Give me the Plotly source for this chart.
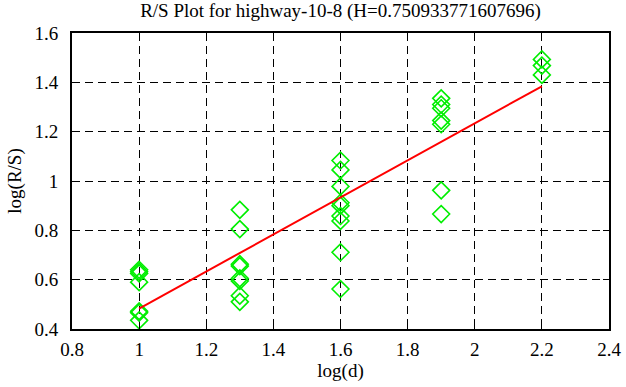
import plotly.graph_objects as go

# Data
x_groups = [1.0, 1.3, 1.6, 1.9, 2.2]
y_at_1_0 = [0.640, 0.632, 0.625, 0.590, 0.472, 0.466, 0.435]
y_at_1_3 = [0.883, 0.805, 0.663, 0.655, 0.605, 0.595, 0.535, 0.510]
y_at_1_6 = [1.083, 1.045, 0.978, 0.912, 0.900, 0.858, 0.838, 0.711, 0.562]
y_at_1_9 = [1.335, 1.310, 1.295, 1.245, 1.230, 0.962, 0.866]
y_at_2_2 = [1.493, 1.468, 1.430]

H = 0.750933771607696
intercept = -0.268
fit_x = [1.0, 2.2]

title_text = "R/S Plot for highway-10-8 (H=0.750933771607696)"
x_label = "log(d)"
y_label = "log(R/S)"
x_ticks = [0.8, 1, 1.2, 1.4, 1.6, 1.8, 2, 2.2, 2.4]
y_ticks = [0.4, 0.6, 0.8, 1, 1.2, 1.4, 1.6]

groups = [y_at_1_0, y_at_1_3, y_at_1_6, y_at_1_9, y_at_2_2]
px, py = [], []
for xv, ys in zip(x_groups, groups):
    for yv in ys:
        px.append(xv)
        py.append(yv)

fit_y = [H * v + intercept for v in fit_x]

fig = go.Figure()
fig.add_trace(go.Scatter(
    x=px, y=py, mode="markers",
    marker=dict(symbol="diamond-open", size=13, color="#00ee00",
                line=dict(width=1.6, color="#00ee00")),
    showlegend=False, hoverinfo="skip",
))
fig.add_trace(go.Scatter(
    x=fit_x, y=fit_y, mode="lines",
    line=dict(color="#ff0000", width=2),
    showlegend=False, hoverinfo="skip",
))

SERIF = "Liberation Serif, Times New Roman, serif"


def axis_style():
    return dict(
        showline=True, linecolor="black", linewidth=2, mirror="allticks",
        ticks="inside", ticklen=6, tickcolor="black", tickwidth=1,
        showgrid=True, gridcolor="black", gridwidth=1, griddash="8px,5px",
        zeroline=False, automargin=False,
        tickfont=dict(family=SERIF, size=19, color="black"),
    )


fig.update_layout(
    width=626, height=387,
    margin=dict(l=72, r=17, t=33, b=58, autoexpand=False),
    paper_bgcolor="white", plot_bgcolor="white",
    font=dict(family=SERIF, size=19, color="black"),
    title=dict(text=title_text, x=0.5, xref="paper", xanchor="center",
               y=0.99, yanchor="top", automargin=False,
               font=dict(family=SERIF, size=19, color="black")),
    xaxis=dict(range=[0.8, 2.4], tickvals=x_ticks,
               ticktext=[f"{v:g}" for v in x_ticks],
               ticklabelstandoff=2,
               title=dict(text=x_label, font=dict(family=SERIF, size=19, color="black"),
                          standoff=4),
               **axis_style()),
    yaxis=dict(range=[0.4, 1.6], tickvals=y_ticks,
               ticktext=[f"{v:g}" for v in y_ticks],
               ticklabelstandoff=8,
               title=dict(text=y_label, font=dict(family=SERIF, size=19, color="black"),
                          standoff=8),
               **axis_style()),
)

css = ("var s=document.createElement('style');"
       "s.textContent='html,body{margin:0;padding:0;overflow:hidden;}';"
       "document.head.appendChild(s);")
fig.write_html("out.html", config={"displayModeBar": False}, post_script=css)
